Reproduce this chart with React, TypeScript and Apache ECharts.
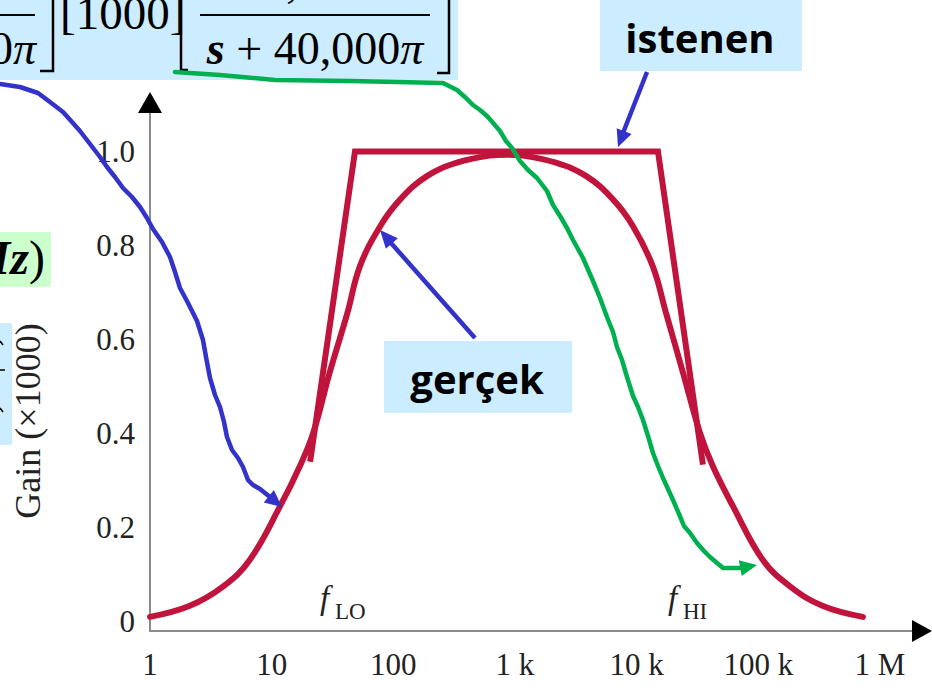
import React, { useEffect, useRef } from 'react';
import * as echarts from 'echarts';

// Frequency axis (Hz, log scale) and its labels
const freqTicks = [1, 10, 100, 1e3, 1e4, 1e5, 1e6];
const freqTickNames = ['1', '10', '100', '1 k', '10 k', '100 k', '1 M'];
// Gain axis labels (×1000)
const gainTicks = [0, 0.2, 0.4, 0.6, 0.8, 1.0];

// Real (gerçek) band-pass response
const realFreq = [
  1, 2.1, 4, 6.6, 11.7, 17, 22, 30, 42, 53, 78, 114, 190, 333, 620, 850,
  1160, 2170, 3830, 6380, 9330, 13600, 17400, 24000, 33100, 42400, 62000,
  109000, 182000, 340000, 724000,
];
const realGain = [
  0.01, 0.033, 0.075, 0.131, 0.245, 0.33, 0.402, 0.53, 0.657, 0.755, 0.841,
  0.898, 0.948, 0.976, 0.991, 0.993, 0.991, 0.976, 0.948, 0.898, 0.841, 0.755,
  0.657, 0.53, 0.402, 0.33, 0.245, 0.131, 0.075, 0.033, 0.01,
];

// Ideal (istenen) response
const idealFreq = [20.7, 48.4, 14970, 35070];
const idealGain = [0.34, 1, 1, 0.334];

const RED = '#c0143c';
const BLUE = '#3333cc';
const GREEN = '#00b050';
const BOX_BLUE = '#ccecff';
const BOX_GREEN = '#ccffcc';
const SERIF = '"Liberation Serif", "Times New Roman", serif';
const SANS = '"Open Sans", "DejaVu Sans", sans-serif';

function arrowHead(tip: number[], from: number[], len: number, half: number) {
  const dx = tip[0] - from[0];
  const dy = tip[1] - from[1];
  const d = Math.hypot(dx, dy);
  const ux = dx / d;
  const uy = dy / d;
  const bx = tip[0] - ux * len;
  const by = tip[1] - uy * len;
  return [
    [tip[0], tip[1]],
    [bx - uy * half, by + ux * half],
    [bx + uy * half, by - ux * half],
  ];
}

function freqLabel(v: number) {
  const lg = Math.log10(v);
  const e = Math.round(lg);
  if (Math.abs(lg - e) > 1e-6) return '';
  const i = freqTicks.indexOf(Math.pow(10, e));
  return i >= 0 ? freqTickNames[i] : '';
}

// hand-drawn pointer lines
const bluePointer = [
  [0, 84], [20, 87], [38, 93], [50, 102], [63, 112], [72, 122], [80, 131],
  [90, 144], [100, 157], [107, 167], [115, 177], [123, 188], [132, 197],
  [140, 207], [147, 218], [153, 229], [162, 242], [170, 257], [175, 272],
  [180, 288], [188, 303], [197, 321], [203, 340], [206, 357], [210, 378],
  [215, 395], [220, 407], [224, 422], [227, 437], [232, 450], [238, 458],
  [243, 467], [248, 480], [253, 485], [260, 489], [270, 497],
];
const greenPointer = [
  [175, 72], [220, 75], [275, 80], [350, 81], [443, 83], [457, 90], [466, 98],
  [473, 105], [480, 110], [487, 116], [494, 124], [500, 131], [506, 141],
  [512, 148], [520, 161], [528, 170], [537, 178], [547, 191], [553, 205],
  [560, 216], [567, 228], [573, 240], [583, 258], [593, 281], [600, 298],
  [607, 317], [613, 332], [617, 347], [622, 360], [627, 377], [633, 396],
  [638, 407], [643, 420], [648, 436], [653, 453], [658, 466], [663, 478],
  [668, 489], [673, 500], [679, 514], [684, 526], [690, 533], [697, 543],
  [704, 551], [710, 557], [723, 568], [741, 568],
];

export default function App() {
  const ref = useRef<HTMLDivElement>(null);

  useEffect(() => {
    if (!ref.current) return;
    const chart = echarts.init(ref.current, null, { renderer: 'svg' });

    const graphic: any[] = [
      // formula strip
      { type: 'rect', shape: { x: 0, y: 0, width: 458, height: 80 }, style: { fill: BOX_BLUE }, z: 1 },
      {
        type: 'text', x: 36, y: 48, z: 2,
        style: {
          text: '{b|s}{n| + 40}{p|π}', align: 'right', verticalAlign: 'middle',
          rich: {
            b: { fontFamily: SERIF, fontSize: 46, fontWeight: 'bold', fontStyle: 'italic', fill: '#000' },
            n: { fontFamily: SERIF, fontSize: 46, fill: '#000' },
            p: { fontFamily: SERIF, fontSize: 46, fontStyle: 'italic', fill: '#000' },
          },
        },
      },
      { type: 'line', z: 2, shape: { x1: -60, y1: 15, x2: 35, y2: 15 }, style: { stroke: '#000', lineWidth: 2 } },
      { type: 'polyline', z: 2, shape: { points: [[53, -5], [53, 71], [40, 71]] }, style: { stroke: '#000', lineWidth: 2.5, fill: 'none' } },
      {
        type: 'text', x: 60, y: 13, z: 2,
        style: { text: '[1000]', fontFamily: SERIF, fontSize: 47, fill: '#000', align: 'left', verticalAlign: 'middle' },
      },
      { type: 'polyline', z: 2, shape: { points: [[188, 70], [181, 70], [181, -5]] }, style: { stroke: '#000', lineWidth: 2.5, fill: 'none' } },
      {
        type: 'text', x: 315, y: -19, z: 2,
        style: {
          text: '{n|40,000}{p|π}', align: 'center', verticalAlign: 'middle',
          rich: {
            n: { fontFamily: SERIF, fontSize: 46, fill: '#000' },
            p: { fontFamily: SERIF, fontSize: 46, fontStyle: 'italic', fill: '#000' },
          },
        },
      },
      { type: 'line', z: 2, shape: { x1: 200, y1: 15, x2: 430, y2: 15 }, style: { stroke: '#000', lineWidth: 2 } },
      {
        type: 'text', x: 315, y: 48, z: 2,
        style: {
          text: '{b|s}{n| + 40,000}{p|π}', align: 'center', verticalAlign: 'middle',
          rich: {
            b: { fontFamily: SERIF, fontSize: 46, fontWeight: 'bold', fontStyle: 'italic', fill: '#000' },
            n: { fontFamily: SERIF, fontSize: 46, fill: '#000' },
            p: { fontFamily: SERIF, fontSize: 46, fontStyle: 'italic', fill: '#000' },
          },
        },
      },
      { type: 'polyline', z: 2, shape: { points: [[437, 73], [449, 73], [449, -5]] }, style: { stroke: '#000', lineWidth: 2.5, fill: 'none' } },

      // frequency unit box
      { type: 'rect', shape: { x: 0, y: 232, width: 51, height: 55 }, style: { fill: BOX_GREEN }, z: 1 },
      {
        type: 'text', x: 45, y: 257, z: 2,
        style: {
          text: '{r|(}{i|Hz}{r|)}', align: 'right', verticalAlign: 'middle',
          rich: {
            r: { fontFamily: SERIF, fontSize: 48, fill: '#000' },
            i: { fontFamily: SERIF, fontSize: 48, fontWeight: 'bold', fontStyle: 'italic', fill: '#000' },
          },
        },
      },

      // side formula box
      { type: 'rect', shape: { x: 0, y: 323, width: 12, height: 122 }, style: { fill: BOX_BLUE }, z: 1 },
      { type: 'line', z: 2, shape: { x1: 0, y1: 341, x2: 3, y2: 345 }, style: { stroke: '#000', lineWidth: 1.5 } },
      { type: 'line', z: 2, shape: { x1: 0, y1: 370, x2: 5, y2: 370 }, style: { stroke: '#000', lineWidth: 1.5 } },
      { type: 'line', z: 2, shape: { x1: 0, y1: 408, x2: 3, y2: 412 }, style: { stroke: '#000', lineWidth: 1.5 } },

      // axis title
      {
        type: 'text', x: 28, y: 421, rotation: Math.PI / 2, z: 2,
        style: { text: 'Gain (×1000)', fontFamily: SERIF, fontSize: 36, fill: '#222', align: 'center', verticalAlign: 'middle' },
      },

      // axis arrow heads
      { type: 'polygon', z: 5, shape: { points: [[150, 92], [138, 113], [162, 113]] }, style: { fill: '#000' } },
      { type: 'polygon', z: 5, shape: { points: [[932, 631], [912, 620], [912, 642]] }, style: { fill: '#000' } },

      // corner frequency marks
      { type: 'text', x: 320, y: 598, z: 2, style: { text: 'f', fontFamily: SERIF, fontSize: 33, fontStyle: 'italic', fill: '#222', align: 'left', verticalAlign: 'middle' } },
      { type: 'text', x: 335, y: 611, z: 2, style: { text: 'LO', fontFamily: SERIF, fontSize: 23, fill: '#222', align: 'left', verticalAlign: 'middle' } },
      { type: 'text', x: 668, y: 598, z: 2, style: { text: 'f', fontFamily: SERIF, fontSize: 33, fontStyle: 'italic', fill: '#222', align: 'left', verticalAlign: 'middle' } },
      { type: 'text', x: 683, y: 611, z: 2, style: { text: 'HI', fontFamily: SERIF, fontSize: 23, fill: '#222', align: 'left', verticalAlign: 'middle' } },

      // callouts
      { type: 'rect', shape: { x: 600, y: 0, width: 202, height: 71 }, style: { fill: BOX_BLUE }, z: 1 },
      { type: 'text', x: 700, y: 37, z: 2, style: { text: 'istenen', fontFamily: SANS, fontSize: 40, fontWeight: 'bold', fill: '#000', align: 'center', verticalAlign: 'middle' } },
      { type: 'rect', shape: { x: 384, y: 341, width: 188, height: 72 }, style: { fill: BOX_BLUE }, z: 1 },
      { type: 'text', x: 477, y: 378, z: 2, style: { text: 'gerçek', fontFamily: SANS, fontSize: 40, fontWeight: 'bold', fill: '#000', align: 'center', verticalAlign: 'middle' } },

      // pointers
      { type: 'line', z: 20, shape: { x1: 647, y1: 72, x2: 623, y2: 133 }, style: { stroke: BLUE, lineWidth: 4.5 } },
      { type: 'polygon', z: 20, shape: { points: arrowHead([618, 147], [647, 72], 17, 8) }, style: { fill: BLUE } },
      { type: 'line', z: 20, shape: { x1: 475, y1: 338, x2: 391, y2: 243 }, style: { stroke: BLUE, lineWidth: 4.5 } },
      { type: 'polygon', z: 20, shape: { points: arrowHead([380, 230], [475, 338], 18, 8) }, style: { fill: BLUE } },
      { type: 'polyline', z: 20, shape: { points: bluePointer }, style: { stroke: BLUE, lineWidth: 4.5, fill: 'none', lineJoin: 'round', lineCap: 'round' } },
      { type: 'polygon', z: 20, shape: { points: arrowHead([282, 507], [266, 494], 17, 8) }, style: { fill: BLUE } },
      { type: 'polyline', z: 20, shape: { points: greenPointer }, style: { stroke: GREEN, lineWidth: 4.5, fill: 'none', lineJoin: 'round', lineCap: 'round' } },
      { type: 'polygon', z: 20, shape: { points: arrowHead([757, 565], [741, 568], 17, 8) }, style: { fill: GREEN } },
    ];

    chart.setOption({
      animation: false,
      backgroundColor: '#fff',
      grid: { left: 150, right: 17, top: 95, bottom: 60 },
      xAxis: {
        type: 'log',
        logBase: 10,
        min: 1,
        max: 1.94e6,
        axisLine: { show: true, onZero: false, lineStyle: { color: '#8c8c8c', width: 2 } },
        axisTick: { show: false },
        splitLine: { show: false },
        axisLabel: {
          formatter: freqLabel,
          fontFamily: SERIF,
          fontSize: 31,
          color: '#222',
          margin: 18,
        },
      },
      yAxis: {
        type: 'value',
        min: -0.02,
        max: 1.12,
        axisLine: { show: true, onZero: false, lineStyle: { color: '#8c8c8c', width: 2 } },
        axisTick: { show: false },
        splitLine: { show: false },
        axisLabel: {
          customValues: gainTicks,
          formatter: (v: number) => (v === 0 ? '0' : v.toFixed(1)),
          fontFamily: SERIF,
          fontSize: 31,
          color: '#222',
          margin: 15,
        },
      },
      series: [
        {
          type: 'line',
          name: 'istenen',
          data: idealFreq.map((f, i) => [f, idealGain[i]]),
          showSymbol: false,
          silent: true,
          lineStyle: { color: RED, width: 6, join: 'miter', cap: 'butt' },
          z: 3,
        },
        {
          type: 'line',
          name: 'gerçek',
          data: realFreq.map((f, i) => [f, realGain[i]]),
          smooth: 0.4,
          showSymbol: false,
          silent: true,
          lineStyle: { color: RED, width: 6, cap: 'round' },
          z: 3,
        },
      ],
      graphic,
    });

    return () => chart.dispose();
  }, []);

  return (
    <div
      ref={ref}
      style={{ position: 'fixed', left: 0, top: 0, width: 932, height: 691, background: '#fff' }}
    />
  );
}
